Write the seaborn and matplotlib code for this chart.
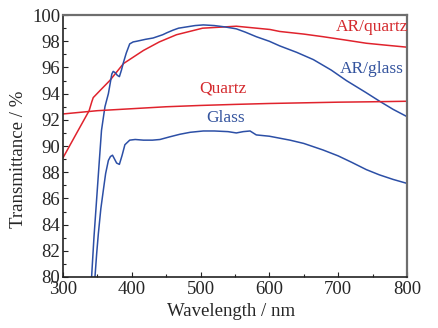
import matplotlib
matplotlib.use("Agg")
import matplotlib.pyplot as plt
from matplotlib import font_manager
import seaborn as sns
import pandas as pd
from matplotlib.ticker import MultipleLocator

# Transmittance spectra (wavelength in nm, transmittance in %)
ar_quartz_wl = [300, 320, 338, 342, 344, 355, 368, 388, 417, 440, 465, 503, 552, 601, 615, 650, 678, 710, 741, 770, 800]
ar_quartz_t = [89.1, 91.0, 92.7, 93.4, 93.7, 94.3, 95.0, 96.3, 97.3, 97.95, 98.5, 99.0, 99.15, 98.9, 98.75, 98.55, 98.35, 98.1, 97.85, 97.7, 97.55]

ar_glass_wl = [340.5, 341.6, 345, 349, 353, 356, 361, 366, 369, 371, 373, 376, 379, 382, 385, 388, 392, 397, 402, 407, 420, 431, 445, 451, 460, 468, 480, 492, 504, 520, 535, 552, 565, 581, 600, 615, 640, 664, 690, 712, 740, 761, 780, 800]
ar_glass_t = [78.0, 80.0, 83.0, 86.0, 89.0, 91.2, 93.0, 94.0, 94.9, 95.5, 95.7, 95.6, 95.4, 95.3, 95.8, 96.4, 97.1, 97.8, 97.95, 98.0, 98.15, 98.25, 98.5, 98.65, 98.85, 99.0, 99.1, 99.2, 99.25, 99.2, 99.1, 98.95, 98.7, 98.35, 98.0, 97.65, 97.15, 96.6, 95.8, 95.0, 94.1, 93.4, 92.8, 92.25]

quartz_wl = [300, 350, 400, 450, 500, 550, 600, 650, 700, 750, 800]
quartz_t = [92.45, 92.7, 92.85, 93.0, 93.1, 93.18, 93.25, 93.3, 93.35, 93.38, 93.42]

glass_wl = [345.5, 346.5, 349, 351.4, 355, 358.6, 362, 366, 369, 372, 375, 378, 382, 386, 390, 397, 405, 417, 430, 441, 455, 470, 485, 504, 520, 540, 552, 562, 572, 581, 600, 615, 630, 650, 678, 700, 720, 741, 760, 780, 800]
glass_t = [78.0, 80.0, 81.8, 83.3, 85.2, 86.6, 87.9, 88.9, 89.2, 89.3, 89.0, 88.7, 88.6, 89.3, 90.1, 90.45, 90.5, 90.45, 90.45, 90.5, 90.7, 90.9, 91.05, 91.15, 91.15, 91.1, 91.0, 91.1, 91.15, 90.85, 90.75, 90.6, 90.45, 90.2, 89.7, 89.25, 88.75, 88.2, 87.8, 87.45, 87.15]

series_names = ["AR/quartz", "AR/glass", "Quartz", "Glass"]
label_wl = [750, 749, 533, 536]
label_t = [99.08, 95.88, 94.43, 92.14]

RED = "#e0232d"
BLUE = "#2c4fa6"
line_colors = [RED, BLUE, RED, BLUE]
text_colors = ["#d42a2e", "#34549e", "#d42a2e", "#34549e"]

# Choose a Times-like serif face from what is installed
available = {f.name for f in font_manager.fontManager.ttflist}
serif_name = "DejaVu Serif"
for cand in ["Liberation Serif", "Times New Roman", "Nimbus Roman", "TeX Gyre Termes", "STIXGeneral"]:
    if cand in available:
        serif_name = cand
        break

sns.set_style("ticks")
plt.rcParams["font.family"] = [serif_name, "DejaVu Serif"]

frames = []
for name, wl, t in zip(series_names,
                       [ar_quartz_wl, ar_glass_wl, quartz_wl, glass_wl],
                       [ar_quartz_t, ar_glass_t, quartz_t, glass_t]):
    frames.append(pd.DataFrame({"wl": wl, "T": t, "sample": name}))
df = pd.concat(frames, ignore_index=True)

fig = plt.figure(figsize=(4.38, 3.28), dpi=100)
ax = fig.add_axes([0.1438, 0.1555, 0.7852, 0.7985])

sns.lineplot(data=df, x="wl", y="T", hue="sample", hue_order=series_names,
             palette=dict(zip(series_names, line_colors)), sort=False,
             estimator=None, linewidth=1.1, legend=False, ax=ax)

for name, x, y, c in zip(series_names, label_wl, label_t, text_colors):
    ax.text(x, y, name, color=c, fontsize=12.5, ha="center", va="center")

ax.set_xlim(300, 800)
ax.set_ylim(80, 100)
ax.xaxis.set_major_locator(MultipleLocator(100))
ax.xaxis.set_minor_locator(MultipleLocator(50))
ax.yaxis.set_major_locator(MultipleLocator(2))
ax.yaxis.set_minor_locator(MultipleLocator(1))
ax.tick_params(which="both", direction="in", labelsize=13.5, color="#222222", pad=2)
ax.tick_params(axis="x", which="both", pad=3)
ax.tick_params(which="major", length=3.5, width=0.8)
ax.tick_params(which="minor", length=2.5, width=0.8)

ax.set_xlabel("Wavelength / nm", fontsize=13.5, labelpad=-1)
ax.set_ylabel("Transmittance / %", fontsize=13.5, labelpad=2)
ax.yaxis.set_label_coords(-0.105, 0.45)
ax.xaxis.set_label_coords(0.49, -0.1)

for side in ["left", "bottom"]:
    ax.spines[side].set_color("#222222")
    ax.spines[side].set_linewidth(1.2)
for side in ["top", "right"]:
    ax.spines[side].set_visible(True)
    ax.spines[side].set_color("#6e6e6e")
    ax.spines[side].set_linewidth(1.6)

fig.savefig("out.png", dpi=100)
